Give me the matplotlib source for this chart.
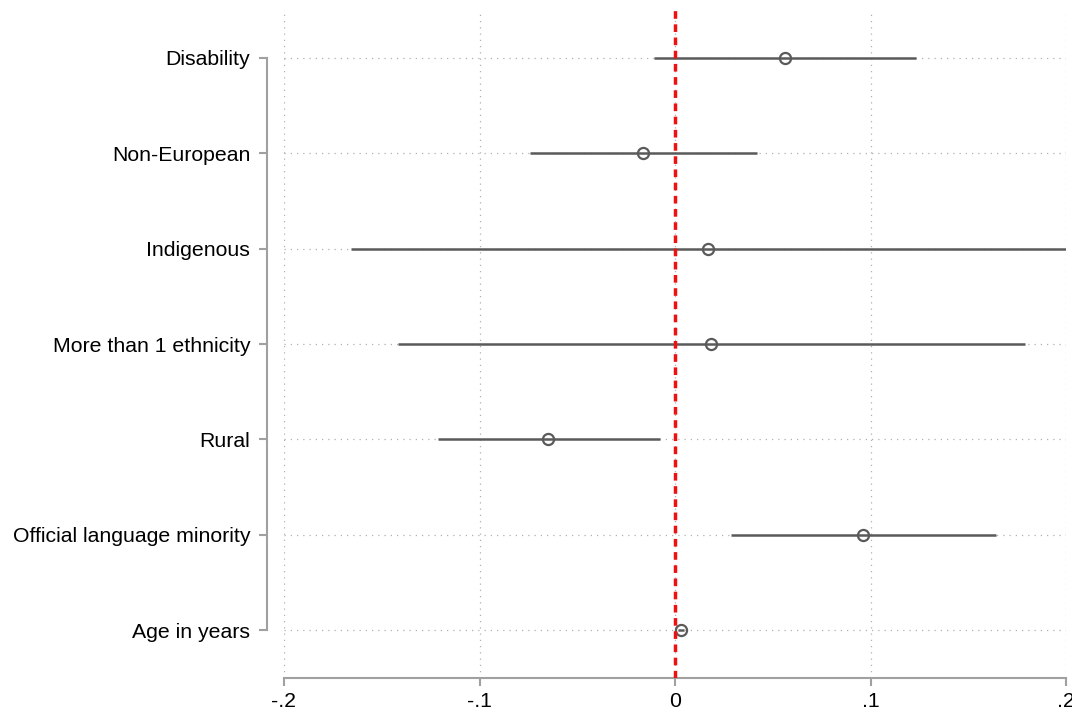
import matplotlib.pyplot as plt
import numpy as np

plt.rcParams['font.family'] = ['Liberation Sans', 'DejaVu Sans']

labels = ['Disability', 'Non-European', 'Indigenous', 'More than 1 ethnicity',
          'Rural', 'Official language minority', 'Age in years']
coef = [0.0563, -0.0164, 0.0169, 0.0184, -0.0650, 0.0962, 0.0031]
lo = [-0.0107, -0.0742, -0.1657, -0.1417, -0.1212, 0.0286, 0.0015]
hi = [0.1233, 0.0420, 0.2000, 0.1790, -0.0077, 0.1640, 0.0047]
xticks = [-0.2, -0.1, 0, 0.1, 0.2]
xticklabels = ['-.2', '-.1', '0', '.1', '.2']

grey = '#a0a0a0'
mark = '#5a5a5a'

fig = plt.figure(figsize=(10.72, 7.15), dpi=100)
ax = fig.add_axes([284 / 1072, 37 / 715, 782 / 1072, 668 / 715])

# spines first, set_position resets the ticks
for s in ['top', 'right']:
    ax.spines[s].set_visible(False)
ax.spines['left'].set_position(('outward', 17 * 0.72))
ax.spines['left'].set_bounds(0, 6)
ax.spines['bottom'].set_bounds(-0.2, 0.2)
for s in ['left', 'bottom']:
    ax.spines[s].set_color(grey)
    ax.spines[s].set_linewidth(1.5)

y = np.arange(len(labels))[::-1]

ax.hlines(y, lo, hi, color=mark, lw=1.8, zorder=3)
ax.plot(coef, y, 'o', ms=8, mfc='none', mec=mark, mew=1.6, zorder=4)
ax.axvline(0, color='#ee1111', lw=2.5, ls=(0, (2.2, 1.6)), zorder=5)

ax.set_xlim(-0.2, 0.2)
ax.set_ylim(-0.5, 6.5)
ax.set_xticks(xticks)
ax.set_xticklabels(xticklabels)
ax.set_yticks(y)
ax.set_yticklabels(labels)

ax.grid(True, ls=(0, (1, 4)), color='#b0b0b0', lw=0.9)
ax.set_axisbelow(True)

ax.tick_params(axis='both', color=grey, width=1.5, length=6, labelcolor='black',
               labelsize=15.3, direction='out')
ax.tick_params(axis='y', pad=6)
ax.tick_params(axis='x', pad=4)

fig.savefig('out.png', dpi=100)
